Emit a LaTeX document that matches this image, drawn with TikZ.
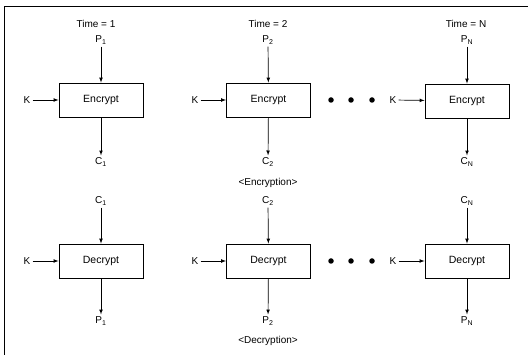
\documentclass[tikz,border=0pt]{standalone}
\usepackage{fontspec}
\setmainfont{Liberation Sans}
\usetikzlibrary{positioning}

\begin{document}
\begin{tikzpicture}[x=1pt,y=-1pt,line width=0.7pt,
  blk/.style={draw,line width=0.9pt,minimum width=84pt,minimum height=34pt,font=\fontsize{10.5}{12}\selectfont},
  lbl/.style={font=\fontsize{10}{12}\selectfont,inner sep=2pt},
  dot/.style={circle,fill,inner sep=0pt,minimum size=5.5pt},
  arr/.style={-latex}]
\useasboundingbox (0,0) rectangle (528,355);
\draw (4,355) -- (4,6) -- (528,6);
% encryption
\node[lbl] (t1) at (96,24) {Time = 1};
\node[lbl] (t2) at (268,24) {Time = 2};
\node[lbl] (tn) at (466,24) {Time = N};
\node[lbl] (p1) at (101,40) {P\textsubscript{1}};
\node[lbl] (p2) at (268,40) {P\textsubscript{2}};
\node[lbl] (pn) at (467,40) {P\textsubscript{N}};
\node[blk] (e1) at (101,100) {Encrypt};
\node[blk] (e2) at (268.5,100) {Encrypt};
\node[blk] (e3) at (467,101) {Encrypt};
\node[lbl] (k1) at (27,100) {K};
\node[lbl] (k2) at (195,100) {K};
\node[lbl] (k3) at (393,100) {K};
\node[lbl] (c1) at (101,162) {C\textsubscript{1}};
\node[lbl] (c2) at (268,162) {C\textsubscript{2}};
\node[lbl] (cn) at (467,162) {C\textsubscript{N}};
\node[lbl] (enc) at (268,183) {<Encryption>};
\node[dot] (a1) at (331,100) {};
\node[dot] (a2) at (351,100) {};
\node[dot] (a3) at (372,100) {};
\draw[arr] (p1) -- (e1);
\draw[arr] (p2) -- (e2);
\draw[arr] (pn) -- (e3);
\draw[arr] (k1) -- (e1);
\draw[arr] (k2) -- (e2);
\draw[arr] (k3) -- (e3);
\draw[arr] (e1) -- (c1);
\draw[arr] (e2) -- (c2);
\draw[arr] (e3.south) -- (cn);
% decryption
\node[lbl] (dc1) at (101,201) {C\textsubscript{1}};
\node[lbl] (dc2) at (268,201) {C\textsubscript{2}};
\node[lbl] (dcn) at (467,201) {C\textsubscript{N}};
\node[blk] (d1) at (101,261) {Decrypt};
\node[blk] (d2) at (268.5,261) {Decrypt};
\node[blk] (d3) at (467,261) {Decrypt};
\node[lbl] (dk1) at (27,261) {K};
\node[lbl] (dk2) at (195,261) {K};
\node[lbl] (dk3) at (393,261) {K};
\node[lbl] (dp1) at (101,321) {P\textsubscript{1}};
\node[lbl] (dp2) at (268,321) {P\textsubscript{2}};
\node[lbl] (dpn) at (467,321) {P\textsubscript{N}};
\node[lbl] (dec) at (268,341) {<Decryption>};
\node[dot] (b1) at (331,261) {};
\node[dot] (b2) at (351,261) {};
\node[dot] (b3) at (372,261) {};
\draw[arr] (dc1) -- (d1);
\draw[arr] (dc2) -- (d2);
\draw[arr] (dcn) -- (d3);
\draw[arr] (dk1) -- (d1);
\draw[arr] (dk2) -- (d2);
\draw[arr] (dk3) -- (d3);
\draw[arr] (d1) -- (dp1);
\draw[arr] (d2) -- (dp2);
\draw[arr] (d3) -- (dpn);
\end{tikzpicture}
\end{document}
